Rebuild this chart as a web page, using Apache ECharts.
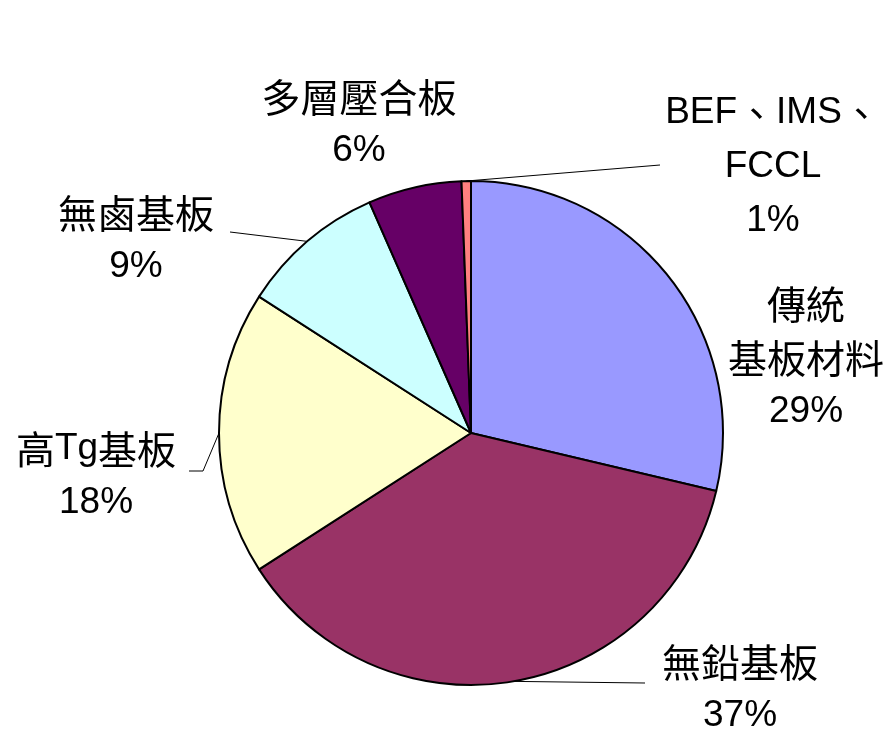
<!DOCTYPE html>
<html>
<head>
<meta charset="utf-8">
<script src="https://cdn.jsdelivr.net/npm/echarts@6/dist/echarts.min.js"></script>
<style>html,body{margin:0;padding:0;background:#fff}#c{width:892px;height:735px}</style>
</head>
<body>
<div id="c"></div>
<script>
// Data
const categories = ['傳統\n基板材料', '無鉛基板', '高Tg基板', '無鹵基板', '多層壓合板', 'BEF、IMS、\nFCCL'];
const shares = [28.7, 37.2, 18.2, 9.3, 6.0, 0.6];
const colors = ['#9999FF', '#993366', '#FFFFCC', '#CCFFFF', '#660066', '#FF8080'];

// Layout (label placement and leader-line ends)
const labelPos = [[806, 358], [740, 689], [96, 476], [136, 240], [359, 124], [773, 167]];
const leaderEnds = [null, [[645, 683]], [[203, 471], [189, 471]], [[230, 232]], null, [[660, 165]]];

function wrapCJK(s) {
  return s.split('\n').map(line => line.replace(/([\u3000-\u9fff]+)/g, '{c|$1}').replace(/^([^{]|$)/, '$1')).join('\n');
}

const chart = echarts.init(document.getElementById('c'));
chart.setOption({
  animation: false,
  series: [{
    type: 'pie',
    center: [471, 433],
    radius: 252,
    startAngle: 90,
    clockwise: true,
    percentPrecision: 0,
    itemStyle: { borderColor: '#000', borderWidth: 2 },
    label: {
      show: true,
      position: 'outside',
      formatter: function (p) { return wrapCJK(p.name) + '\n' + p.percent + '%'; },
      fontFamily: "'Liberation Sans', 'Noto Sans CJK TC', sans-serif",
      fontSize: 37,
      lineHeight: 54,
      color: '#000',
      align: 'center',
      rich: {
        c: { fontFamily: "'Noto Sans CJK TC', sans-serif", fontSize: 39, lineHeight: 54, color: '#000' }
      }
    },
    labelLine: { show: true, lineStyle: { color: '#000', width: 1 } },
    emphasis: { disabled: true },
    data: categories.map((c, i) => ({
      name: c,
      value: shares[i],
      itemStyle: { color: colors[i] },
      labelLine: { show: !!leaderEnds[i] }
    })),
    labelLayout: function (p) {
      const i = p.dataIndex;
      const res = { x: labelPos[i][0], y: labelPos[i][1], align: 'center', verticalAlign: 'middle' };
      if (leaderEnds[i] && p.labelLinePoints) {
        res.labelLinePoints = [p.labelLinePoints[0]].concat(leaderEnds[i]);
      }
      return res;
    }
  }]
});
</script>
</body>
</html>
